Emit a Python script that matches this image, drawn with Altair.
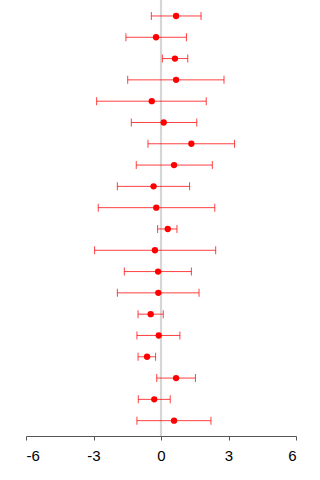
import altair as alt
import pandas as pd

# Effect estimates with lower / upper interval bounds, one row per study (top to bottom)
rows = list(range(1, 21))
estimate = [0.67, -0.22, 0.62, 0.67, -0.41, 0.12, 1.35, 0.58, -0.33, -0.21,
            0.30, -0.27, -0.13, -0.12, -0.46, -0.10, -0.62, 0.67, -0.30, 0.58]
lower = [-0.43, -1.56, 0.06, -1.48, -2.86, -1.32, -0.58, -1.10, -1.94, -2.79,
         -0.15, -2.95, -1.63, -1.94, -1.02, -1.07, -1.02, -0.19, -1.01, -1.07]
upper = [1.78, 1.13, 1.19, 2.80, 2.01, 1.59, 3.27, 2.28, 1.27, 2.39,
         0.71, 2.43, 1.35, 1.69, 0.10, 0.84, -0.24, 1.53, 0.41, 2.22]
x_ticks = [-6, -3, 0, 3, 6]

df = pd.DataFrame({"row": rows, "est": estimate, "lo": lower, "hi": upper})

x_scale = alt.Scale(domain=[-6, 6], nice=False, zero=False)
y_scale = alt.Scale(domain=[0.25, 20.72], reverse=True, nice=False, zero=False)

x_axis = alt.Axis(values=x_ticks, title=None, grid=False, domainColor="#555555",
                  tickColor="#555555", tickSize=4, labelFontSize=15,
                  labelFont="Liberation Sans", labelColor="#000000",
                  labelPadding=8, labelExpr="'' + datum.value")

zero_line = alt.Chart(pd.DataFrame({"x": [0]})).mark_rule(
    color="#d6d6d6", strokeWidth=2.2
).encode(x=alt.X("x:Q", scale=x_scale, axis=x_axis))

base = alt.Chart(df)
y_enc = alt.Y("row:Q", scale=y_scale, axis=None)

bars = base.mark_rule(color="#ff0000", opacity=0.75, strokeWidth=1).encode(
    x=alt.X("lo:Q", scale=x_scale, axis=x_axis), x2="hi:Q", y=y_enc
)
cap_lo = base.mark_tick(color="#ff0000", opacity=0.75, orient="vertical",
                        size=8, thickness=1).encode(
    x=alt.X("lo:Q", scale=x_scale), y=y_enc
)
cap_hi = base.mark_tick(color="#ff0000", opacity=0.75, orient="vertical",
                        size=8, thickness=1).encode(
    x=alt.X("hi:Q", scale=x_scale), y=y_enc
)
points = base.mark_circle(color="#ff0000", opacity=1, size=40).encode(
    x=alt.X("est:Q", scale=x_scale), y=y_enc
)

chart = alt.layer(zero_line, bars, cap_lo, cap_hi, points).properties(
    width=270, height=436,
    autosize=alt.AutoSizeParams(type="none"),
    padding={"left": 26, "top": 0, "right": 24, "bottom": 44},
).configure_view(stroke=None)

chart.save("out.html", embed_options={"renderer": "svg", "actions": False})
